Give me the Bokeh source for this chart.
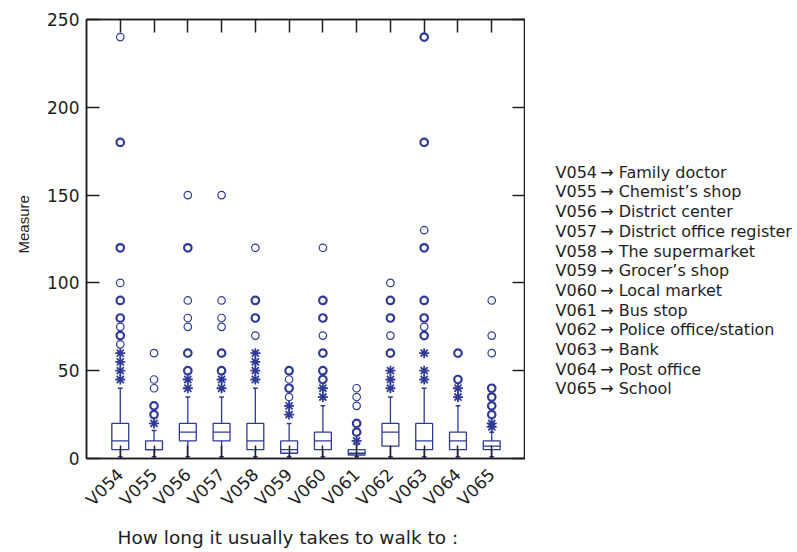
import math
from collections import Counter

from bokeh.plotting import figure
from bokeh.layouts import row
from bokeh.models import Range1d, LinearAxis, FixedTicker, Title
from bokeh.embed import file_html
from bokeh.resources import INLINE

# Walking time (minutes) to each place: box summaries and outliers
categories = ["V054", "V055", "V056", "V057", "V058", "V059",
              "V060", "V061", "V062", "V063", "V064", "V065"]
places = ["Family doctor", "Chemist\u2019s shop", "District center",
          "District office register", "The supermarket", "Grocer\u2019s shop",
          "Local market", "Bus stop", "Police office/station", "Bank",
          "Post office", "School"]

q1 = [5, 5, 10, 10, 5, 3, 5, 2, 7, 5, 5, 5]
medians = [10, 5, 15, 15, 10, 5, 10, 3, 15, 10, 10, 7]
q3 = [20, 10, 20, 20, 20, 10, 15, 5, 20, 20, 15, 10]
whisker_low = [1, 1, 1, 1, 1, 1, 1, 1, 1, 1, 1, 1]
whisker_high = [40, 16, 35, 35, 40, 20, 30, 8, 35, 40, 30, 15]

# values between 1.5 and 3 box lengths (asterisks)
stars = [
    [45, 50, 55, 60],
    [20],
    [40, 45],
    [40, 45],
    [45, 50, 55, 60],
    [25, 30],
    [35, 40],
    [10],
    [40, 45, 50],
    [45, 50, 60],
    [35, 40],
    [18, 20],
]
# values beyond 3 box lengths (circles); repeated values mark tied cases
circles = [
    [65, 70, 70, 75, 80, 80, 90, 90, 100, 120, 120, 180, 180, 240],
    [25, 25, 30, 30, 40, 45, 60],
    [50, 50, 60, 60, 75, 80, 90, 120, 120, 150],
    [50, 50, 60, 60, 75, 80, 90, 150],
    [70, 80, 80, 90, 90, 120],
    [35, 40, 40, 45, 50, 50],
    [45, 45, 50, 50, 60, 60, 70, 80, 80, 90, 90, 120],
    [15, 15, 20, 20, 30, 35, 40],
    [60, 60, 70, 80, 80, 90, 90, 100],
    [70, 70, 75, 80, 80, 90, 90, 120, 120, 130, 180, 180, 240, 240],
    [45, 45, 60, 60],
    [25, 25, 30, 30, 35, 35, 40, 40, 60, 70, 90],
]

y_ticks = [0, 50, 100, 150, 200, 250]

BLUE = "#2f3b96"
INK = "#1e1e1e"
BOX_HALF = 0.25
CAP_HALF = 0.07

xs = [i + 1 for i in range(len(categories))]

p = figure(width=525, height=552,
           x_range=Range1d(0, len(categories) + 1), y_range=Range1d(0, 250),
           output_backend="svg", toolbar_location=None,
           min_border_left=86, min_border_right=0,
           min_border_top=19, min_border_bottom=94)
p.grid.visible = False
p.outline_line_color = INK
p.outline_line_width = 1.5
p.background_fill_color = "white"
p.border_fill_color = "white"

bottom_axis = p.below[0]
left_axis = p.left[0]

# whiskers and caps
p.segment(x0=xs, y0=q3, x1=xs, y1=whisker_high, line_color=BLUE, line_width=1.3)
p.segment(x0=xs, y0=whisker_low, x1=xs, y1=q1, line_color=BLUE, line_width=1.3)
for ends in (whisker_high, whisker_low):
    p.segment(x0=[x - CAP_HALF for x in xs], y0=ends,
              x1=[x + CAP_HALF for x in xs], y1=ends,
              line_color=BLUE, line_width=1.5)

# boxes and medians
p.quad(left=[x - BOX_HALF for x in xs], right=[x + BOX_HALF for x in xs],
       bottom=q1, top=q3, fill_color="white", line_color=BLUE, line_width=1.3)
p.segment(x0=[x - BOX_HALF for x in xs], y0=medians,
          x1=[x + BOX_HALF for x in xs], y1=medians,
          line_color=BLUE, line_width=1.3)

# asterisk outliers
sx, sy = [], []
for x, vals in zip(xs, stars):
    for v in vals:
        sx.append(x)
        sy.append(v)
p.scatter(x=sx, y=sy, marker="asterisk", size=10, line_color=BLUE, line_width=1.8)

# circle outliers, drawn heavier where cases are tied
cx, cy, cw = [], [], []
for x, vals in zip(xs, circles):
    for v, n in Counter(vals).items():
        cx.append(x)
        cy.append(v)
        cw.append(2.2 if n > 1 else 1.2)
p.scatter(x=cx, y=cy, marker="circle", size=7.5, fill_color=None,
          line_color=BLUE, line_width=cw)

# axes on all four sides, ticks pointing inwards
left_axis.ticker = FixedTicker(ticks=y_ticks)
bottom_axis.ticker = FixedTicker(ticks=xs)
bottom_axis.major_label_overrides = {x: c for x, c in zip(xs, categories)}
bottom_axis.major_label_orientation = math.pi / 4

right_axis = LinearAxis(ticker=FixedTicker(ticks=y_ticks))
top_axis = LinearAxis(ticker=FixedTicker(ticks=xs))
right_axis.major_label_overrides = {t: "" for t in y_ticks}
top_axis.major_label_overrides = {x: "" for x in xs}
p.add_layout(right_axis, "right")
p.add_layout(top_axis, "above")

for ax in (bottom_axis, left_axis, right_axis, top_axis):
    ax.major_tick_in = 13
    ax.major_tick_out = 0
    ax.minor_tick_in = 0
    ax.minor_tick_out = 0
    ax.axis_line_color = INK
    ax.axis_line_width = 1.5
    ax.major_tick_line_color = INK
    ax.major_tick_line_width = 1.5
    ax.major_label_text_font = "DejaVu Sans"
    ax.major_label_text_font_size = "17px"
    ax.major_label_text_color = INK

for ax in (right_axis, top_axis):
    ax.major_label_text_font_size = "1px"
    ax.major_label_standoff = 0

left_axis.major_label_standoff = 7
bottom_axis.major_label_standoff = 13

# y title, shifted up along the axis
p.add_layout(Title(text="Measure", align="left", offset=205, standoff=22,
                   vertical_align="top",
                   text_font="Liberation Sans", text_font_size="15px",
                   text_font_style="normal", text_color=INK), "left")

# x title below the rotated category labels
p.add_layout(Title(text="How long it usually takes to walk to :",
                   align="left", offset=31, standoff=10,
                   text_font="DejaVu Sans", text_font_size="18.5px",
                   text_font_style="normal", text_color=INK), "below")

# key of variable names to places, drawn in its own panel
key = figure(width=272, height=552, x_range=Range1d(0, 272), y_range=Range1d(458, 19),
             output_backend="svg", toolbar_location=None,
             min_border=0, outline_line_color=None)
key.axis.visible = False
key.grid.visible = False
key_text = [f"{c}\u2009\u2192 {place}" for c, place in zip(categories, places)]
key_y = [171.7 + 19.7 * i for i in range(len(key_text))]
key.text(x=[30] * len(key_text), y=key_y, text=key_text,
         text_font={"value": "DejaVu Sans"}, text_font_size="16px",
         text_color=INK, text_align="left", text_baseline="middle")

layout = row(p, key)
open("out.html", "w").write(file_html(layout, INLINE))
